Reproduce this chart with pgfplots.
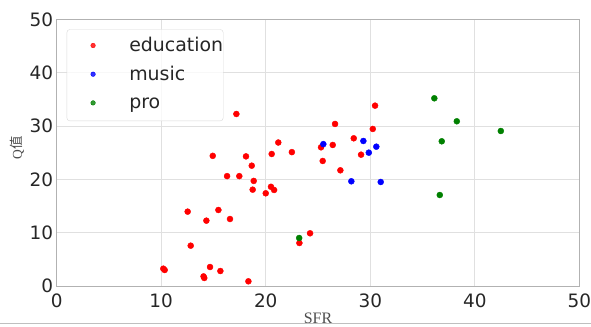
\documentclass[border=0pt]{standalone}
\usepackage{pgfplots}
\pgfplotsset{compat=1.18}
\usepackage{fontspec}
\setmainfont{DejaVu Sans}
\newfontfamily\cjkfont{Noto Sans CJK SC}
\newfontfamily\lserif{Liberation Serif}
\definecolor{mplgreen}{RGB}{0,128,0}
\begin{document}
\begin{tikzpicture}
\path[use as bounding box] (0,0) rectangle (591bp,327bp);
\begin{axis}[
  at={(56.7bp,41bp)}, anchor=south west,
  scale only axis, width=522.6bp, height=266.7bp,
  xmin=0, xmax=50, ymin=0, ymax=50,
  xtick={0,10,...,50}, ytick={0,10,...,50},
  grid=major, grid style={black!12, line width=0.7bp},
  axis line style={black!30, line width=0.9bp},
  major tick length=0pt,
  /pgf/number format/assume math mode=true,
  tick label style={font=\fontsize{18.5}{20}\selectfont, text=black!85, inner sep=0pt},
  yticklabel style={xshift=-3.4bp},
  xticklabel style={yshift=-7.3bp},
  xlabel={\lserif\fontsize{16}{18}\selectfont SFR},
  xlabel style={at={(axis description cs:0.5,0)}, anchor=base, yshift=-37.5bp, inner sep=0pt, text=black!70},
  ylabel={\fontsize{13.5}{15}\selectfont{\lserif Q}{\cjkfont 值}},
  ylabel style={at={(axis description cs:0,0.519)}, anchor=center, rotate=0, yshift=39.5bp, inner sep=0pt, text=black!70},
  legend cell align=left,
  legend image code/.code={\path (0bp,0bp) (62bp,0bp); \fill[#1] (26bp,1bp) circle (2.3bp);},
  legend style={at={(axis description cs:0.0191,0.9625)}, anchor=north west,
    draw=black!15, rounded corners=3bp, fill=white, fill opacity=0.8, text opacity=1,
    font=\fontsize{19}{22}\selectfont, text=black!85,
    inner xsep=0pt, inner ysep=8bp, row sep=10.7bp,
    nodes={inner sep=0pt, text height=14bp, text depth=4bp},
    /tikz/every even column/.style={column sep=0pt}},
]
\addplot[only marks, mark=*, mark size=3bp, color=red] coordinates {
(17.19,32.25) (14.93,24.4) (18.11,24.3) (18.66,22.56) (16.3,20.6) (17.47,20.6)
(18.85,19.7) (18.75,18.06) (20.0,17.38) (20.5,18.6) (20.8,18.0) (20.57,24.75)
(21.2,26.9) (22.5,25.1) (12.53,13.94) (15.47,14.25) (14.32,12.25) (16.58,12.56)
(12.82,7.56) (10.2,3.25) (10.33,3.0) (14.12,1.5) (14.05,1.8) (14.67,3.56)
(15.66,2.81) (18.34,0.88) (23.22,8.06) (24.24,9.88) (25.29,26.0) (25.45,23.44)
(26.41,26.44) (26.63,30.38) (27.14,21.69) (28.42,27.69) (29.12,24.62)
(30.24,29.44) (30.46,33.81)
};
\addlegendentry{education\hspace{9bp}}
\addplot[only marks, mark=*, mark size=3bp, color=blue] coordinates {
(25.51,26.6) (28.19,19.63) (29.34,27.19) (29.86,25.0) (30.58,26.12) (31.0,19.5)
};
\addlegendentry{music}
\addplot[only marks, mark=*, mark size=3bp, color=mplgreen] coordinates {
(23.2,9.0) (36.13,35.19) (38.28,30.88) (36.84,27.13) (42.49,29.06) (36.65,17.06)
};
\addlegendentry{pro}
\end{axis}
\draw[black!25, line width=0.8bp] (0,3.5bp) -- (591bp,3.5bp);
\end{tikzpicture}
\end{document}
